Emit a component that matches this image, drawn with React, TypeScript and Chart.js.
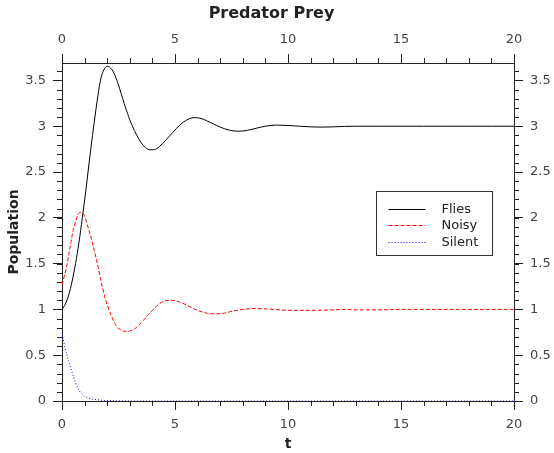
import React, { useEffect, useRef } from 'react';
import { Chart, registerables } from 'chart.js';

Chart.register(...registerables);

// ---- data ----
const fliesT = [0, 0.15, 0.3, 0.45, 0.6, 0.75, 0.9, 1.05, 1.2, 1.35, 1.5, 1.6, 1.7, 1.8, 1.9, 2.0, 2.1, 2.2, 2.3, 2.4, 2.5, 2.6, 2.7, 2.8, 2.9, 3.0, 3.1, 3.2, 3.3, 3.4, 3.5, 3.7, 3.9, 4.1, 4.3, 4.6, 4.9, 5.2, 5.5, 5.8, 6.1, 6.4, 6.7, 7.0, 7.4, 7.8, 8.2, 8.6, 9.0, 9.5, 10, 10.5, 11, 11.5, 12, 12.5, 13, 14, 15, 16, 17, 18, 19, 20];
const fliesV = [1.0, 1.06, 1.16, 1.31, 1.5, 1.73, 2.0, 2.29, 2.6, 2.9, 3.18, 3.35, 3.5, 3.585, 3.635, 3.655, 3.645, 3.62, 3.58, 3.52, 3.45, 3.37, 3.29, 3.21, 3.14, 3.07, 3.01, 2.955, 2.905, 2.86, 2.82, 2.765, 2.742, 2.745, 2.775, 2.85, 2.93, 3.01, 3.065, 3.093, 3.088, 3.06, 3.025, 2.99, 2.958, 2.945, 2.955, 2.978, 3.0, 3.012, 3.008, 3.0, 2.993, 2.99, 2.993, 2.998, 3.0, 3.0, 3.0, 3.0, 3.0, 3.0, 3.0, 3.0];

const noisyT = [0, 0.1, 0.2, 0.3, 0.4, 0.5, 0.6, 0.7, 0.8, 0.9, 1.0, 1.1, 1.2, 1.3, 1.4, 1.5, 1.6, 1.7, 1.8, 1.9, 2.0, 2.2, 2.4, 2.6, 2.8, 3.0, 3.2, 3.4, 3.6, 3.8, 4.0, 4.2, 4.4, 4.6, 4.8, 5.0, 5.2, 5.5, 5.8, 6.1, 6.4, 6.8, 7.2, 7.6, 8.0, 8.5, 9.0, 9.5, 10, 11, 12, 12.5, 13, 14, 15, 16, 17, 18, 19, 20];
const noisyV = [1.27, 1.36, 1.46, 1.6, 1.74, 1.87, 1.96, 2.03, 2.06, 2.05, 2.02, 1.94, 1.86, 1.77, 1.67, 1.57, 1.46, 1.34, 1.23, 1.13, 1.05, 0.92, 0.82, 0.775, 0.76, 0.765, 0.785, 0.83, 0.88, 0.935, 0.99, 1.04, 1.075, 1.095, 1.1, 1.095, 1.08, 1.05, 1.01, 0.98, 0.96, 0.95, 0.96, 0.985, 1.0, 1.01, 1.005, 0.998, 0.99, 0.99, 0.995, 1.0, 0.995, 0.995, 1.0, 1.0, 1.0, 1.0, 1.0, 1.0];

const silentT = [0, 0.1, 0.2, 0.3, 0.4, 0.5, 0.6, 0.7, 0.8, 0.9, 1.0, 1.2, 1.4, 1.7, 2.0, 2.5, 3, 5, 10, 15, 20];
const silentV = [0.73, 0.62, 0.52, 0.43, 0.35, 0.27, 0.2, 0.14, 0.1, 0.07, 0.05, 0.03, 0.02, 0.01, 0.005, 0.002, 0, 0, 0, 0, 0];

const seriesNames = ['Flies', 'Noisy', 'Silent'];
const chartTitle = 'Predator Prey';
const xMajorTicks = [0, 5, 10, 15, 20];
const yMajorTicks = [0, 0.5, 1, 1.5, 2, 2.5, 3, 3.5];
const xRange = [0, 20];
const yRange = [0, 3.69];

const FONT = 'DejaVu Sans';
const AXIS_COLOR = '#222';
const TEXT_COLOR = '#444';
const SERIES_COLORS = ['#000000', '#ff0000', '#0000ff'];
const SERIES_DASHES = [[], [4, 2], [1, 2]];

function toPoints(t: number[], v: number[]) {
  return t.map((x, i) => ({ x, y: v[i] }));
}

function minorValues(lo: number, hi: number, step: number) {
  const out: number[] = [];
  const n = Math.round((hi - lo) / step);
  for (let i = 0; i <= n; i++) out.push(Math.round((lo + i * step) * 1000) / 1000);
  return out;
}

const minorTicksPlugin = {
  id: 'minorTicks',
  afterDraw(chart: any) {
    const ctx = chart.ctx;
    const { top, bottom, left, right } = chart.chartArea;
    const len = 5;
    ctx.save();
    ctx.strokeStyle = AXIS_COLOR;
    ctx.lineWidth = 1;
    ctx.beginPath();
    for (const v of minorValues(xRange[0], xRange[1], 1)) {
      const px = Math.round(chart.scales.x.getPixelForValue(v)) + 0.5;
      ctx.moveTo(px, bottom);
      ctx.lineTo(px, bottom + len);
      ctx.moveTo(px, top);
      ctx.lineTo(px, top - len);
    }
    for (const v of minorValues(0, 3.6, 0.1)) {
      const py = Math.round(chart.scales.y.getPixelForValue(v)) + 0.5;
      ctx.moveTo(left, py);
      ctx.lineTo(left - len, py);
      ctx.moveTo(right, py);
      ctx.lineTo(right + len, py);
    }
    ctx.stroke();
    ctx.restore();
  },
};

const titlePlugin = {
  id: 'plotTitle',
  afterDraw(chart: any) {
    const ctx = chart.ctx;
    ctx.save();
    ctx.font = `bold 16px "${FONT}"`;
    ctx.fillStyle = '#222';
    ctx.textAlign = 'center';
    ctx.textBaseline = 'middle';
    ctx.fillText(chartTitle, chart.width / 2 - 5.5, 14);
    ctx.restore();
  },
};

const legendPlugin = {
  id: 'boxLegend',
  afterDraw(chart: any) {
    const ctx = chart.ctx;
    const { right, top } = chart.chartArea;
    const bx = Math.round(right - 138) + 0.5;
    const by = Math.round(top + 128) + 0.5;
    const bw = 116;
    const bh = 64;
    ctx.save();
    ctx.fillStyle = '#fff';
    ctx.fillRect(bx, by, bw, bh);
    ctx.strokeStyle = '#333';
    ctx.lineWidth = 1;
    ctx.setLineDash([]);
    ctx.strokeRect(bx, by, bw, bh);
    ctx.font = `13px "${FONT}"`;
    ctx.textBaseline = 'middle';
    ctx.textAlign = 'left';
    chart.data.datasets.forEach((ds: any, i: number) => {
      const y = Math.round(by + 17 + i * 16.5) + 0.5;
      ctx.strokeStyle = SERIES_COLORS[i];
      ctx.lineWidth = 1;
      ctx.setLineDash(SERIES_DASHES[i]);
      ctx.beginPath();
      ctx.moveTo(bx + 12, y);
      ctx.lineTo(bx + 49, y);
      ctx.stroke();
      ctx.setLineDash([]);
      ctx.fillStyle = '#222';
      ctx.fillText(ds.label, bx + 65, y);
    });
    ctx.restore();
  },
};

function axisCommon(position: string, majors: number[], range: number[], size: number) {
  const horizontal = position === 'top' || position === 'bottom';
  return {
    type: 'linear',
    position,
    min: range[0],
    max: range[1],
    afterBuildTicks: (s: any) => {
      s.ticks = majors.map((value) => ({ value }));
    },
    afterFit: (s: any) => {
      if (horizontal) s.height = size;
      else s.width = size;
    },
    ticks: {
      display: true,
      autoSkip: false,
      maxRotation: 0,
      padding: 7,
      color: TEXT_COLOR,
      font: { family: FONT, size: 13 },
      callback: (v: number) => String(v),
    },
    grid: {
      display: true,
      drawOnChartArea: false,
      drawTicks: true,
      tickLength: 9,
      color: AXIS_COLOR,
      tickColor: AXIS_COLOR,
      lineWidth: 1,
    },
    border: { display: true, color: AXIS_COLOR, width: 1 },
  };
}

export default function App() {
  const ref = useRef<HTMLCanvasElement>(null);

  useEffect(() => {
    if (!ref.current) return;
    const xAxis: any = axisCommon('bottom', xMajorTicks, xRange, 52);
    xAxis.title = {
      display: true,
      text: 't',
      color: '#222',
      font: { family: FONT, size: 14, weight: 'bold' },
      padding: { top: 0, bottom: 0 },
    };
    const x2Axis: any = axisCommon('top', xMajorTicks, xRange, 63);
    const yAxis: any = axisCommon('left', yMajorTicks, yRange, 62);
    yAxis.title = {
      display: true,
      text: 'Population',
      color: '#222',
      font: { family: FONT, size: 14, weight: 'bold' },
      padding: { top: 6, bottom: 0 },
    };
    const y2Axis: any = axisCommon('right', yMajorTicks, yRange, 40);

    const series = [
      [fliesT, fliesV],
      [noisyT, noisyV],
      [silentT, silentV],
    ];

    const chart = new Chart(ref.current, {
      type: 'line',
      data: {
        datasets: series.map(([t, v], i) => ({
          label: seriesNames[i],
          data: toPoints(t, v),
          borderColor: SERIES_COLORS[i],
          borderWidth: 1,
          borderDash: SERIES_DASHES[i],
          pointRadius: 0,
          cubicInterpolationMode: 'monotone',
          xAxisID: 'x',
          yAxisID: 'y',
        })),
      } as any,
      options: {
        responsive: false,
        animation: false,
        layout: { padding: 0 },
        plugins: {
          legend: { display: false },
          tooltip: { enabled: false },
          title: { display: false },
        },
        scales: { x: xAxis, x2: x2Axis, y: yAxis, y2: y2Axis },
      } as any,
      plugins: [minorTicksPlugin, legendPlugin, titlePlugin],
    });
    return () => chart.destroy();
  }, []);

  return (
    <div style={{ position: 'absolute', left: 0, top: 0, width: 554, height: 453, background: '#fff' }}>
      <canvas ref={ref} width={554} height={453} style={{ display: 'block' }} />
    </div>
  );
}
